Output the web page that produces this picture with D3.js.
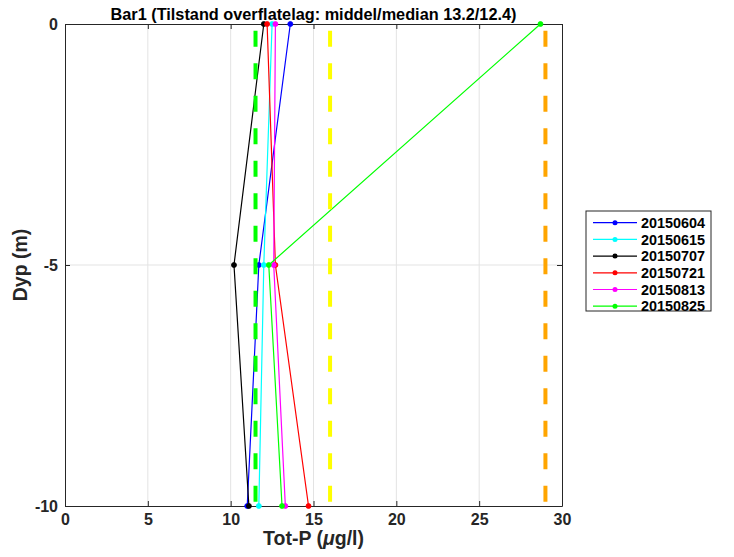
<!DOCTYPE html>
<html><head><meta charset="utf-8">
<script src="https://cdn.jsdelivr.net/npm/d3@7"></script>
<style>body{margin:0;background:#fff}svg{display:block;font-family:"Liberation Sans",Arial,Helvetica,sans-serif}</style>
</head><body><svg id="c" width="734" height="557"></svg>
<script>
const titleText = "Bar1 (Tilstand overflatelag: middel/median 13.2/12.4)";
const depths = [0, -5, -10];
const seriesNames = ["20150604","20150615","20150707","20150721","20150813","20150825"];
const seriesColors = ["#0000ff","#00ffff","#000000","#ff0000","#ff00ff","#00ff00"];
const s20150604 = [13.6, 11.7, 11.0];
const s20150615 = [12.5, 12.0, 11.7];
const s20150707 = [12.0, 10.2, 11.1];
const s20150721 = [12.2, 12.7, 14.7];
const s20150813 = [12.7, 12.6, 13.3];
const s20150825 = [28.7, 12.3, 13.1];
const seriesValues = [s20150604, s20150615, s20150707, s20150721, s20150813, s20150825];
const refValues = [11.5, 16, 29];
const refColors = ["#00ff00","#ffff00","#ffa500"];
const xTicks = [0,5,10,15,20,25,30];
const yTicks = [-10,-5,0];

const svg = d3.select("#c");
const L=65,R=562,T=24,B=506;
const x = d3.scaleLinear().domain([0,30]).range([L,R]);
const y = d3.scaleLinear().domain([-10,0]).range([B,T]);

// grid
const g = svg.append("g");
g.selectAll(".gx").data(xTicks.slice(1,-1)).join("line")
  .attr("x1",d=>x(d)).attr("x2",d=>x(d)).attr("y1",T).attr("y2",B)
  .attr("stroke","#e3e3e3").attr("stroke-width",1);
g.selectAll(".gy").data(yTicks.slice(1,-1)).join("line")
  .attr("y1",d=>y(d)).attr("y2",d=>y(d)).attr("x1",L).attr("x2",R)
  .attr("stroke","#e3e3e3").attr("stroke-width",1);

// axes
const fmt = d => String(d);
const xa = svg.append("g").attr("transform",`translate(0,${B})`)
  .call(d3.axisBottom(x).tickValues(xTicks).tickFormat(fmt).tickSizeInner(-5).tickSizeOuter(0).tickPadding(8));
const xaTop = svg.append("g").attr("transform",`translate(0,${T})`)
  .call(d3.axisTop(x).tickValues(xTicks).tickSizeInner(-5).tickSizeOuter(0).tickFormat(""));
const ya = svg.append("g").attr("transform",`translate(${L},0)`)
  .call(d3.axisLeft(y).tickValues(yTicks).tickFormat(fmt).tickSizeInner(-5).tickSizeOuter(0).tickPadding(7));
const yaR = svg.append("g").attr("transform",`translate(${R},0)`)
  .call(d3.axisRight(y).tickValues(yTicks).tickSizeInner(-5).tickSizeOuter(0).tickFormat(""));
[xa,xaTop,ya,yaR].forEach(a=>{
  a.select(".domain").attr("stroke","#262626").attr("stroke-width",1);
  a.selectAll(".tick line").attr("stroke","#262626");
  a.selectAll("text").attr("fill","#262626").style("font-size","16px").style("font-weight","bold")
   .style("font-family","'Liberation Sans',Arial,sans-serif");
});

// data lines
const line = d3.line().x(d=>x(d[0])).y(d=>y(d[1]));
seriesValues.forEach((vals,i)=>{
  const pts = vals.map((v,j)=>[v,depths[j]]);
  svg.append("path").datum(pts).attr("d",line).attr("fill","none")
    .attr("stroke",seriesColors[i]).attr("stroke-width",1.2);
  svg.append("g").selectAll("circle").data(pts).join("circle")
    .attr("cx",d=>x(d[0])).attr("cy",d=>y(d[1])).attr("r",2.5)
    .attr("fill",seriesColors[i]).attr("stroke",seriesColors[i]).attr("stroke-width",0.8);
});

// reference dashed lines
refValues.forEach((v,i)=>{
  svg.append("line").attr("x1",x(v)).attr("x2",x(v)).attr("y1",y(0)).attr("y2",y(-10))
    .attr("stroke",refColors[i]).attr("stroke-width",4)
    .attr("stroke-dasharray","16 16.5").attr("stroke-dashoffset",25.8);
});

// title
svg.append("text").attr("x",(L+R)/2).attr("y",20).attr("text-anchor","middle")
  .style("font-size","16.3px").style("font-weight","bold").attr("fill","#000").text(titleText);

// axis labels
const xl = svg.append("text").attr("x",(L+R)/2).attr("y",545).attr("text-anchor","middle")
  .style("font-size","19.5px").style("font-weight","bold").attr("fill","#262626");
xl.append("tspan").text("Tot-P (");
xl.append("tspan").style("font-style","italic").text("\u03bc");
xl.append("tspan").text("g/l)");
svg.append("text").attr("transform",`translate(27,${(T+B)/2}) rotate(-90)`).attr("text-anchor","middle")
  .style("font-size","19.5px").style("font-weight","bold").attr("fill","#262626").text("Dyp (m)");

// legend
const lg = svg.append("g");
lg.append("rect").attr("x",586).attr("y",211).attr("width",125).attr("height",100)
  .attr("fill","#fff").attr("stroke","#262626").attr("stroke-width",1);
seriesNames.forEach((n,i)=>{
  const yy = 222.7 + i*16.7;
  lg.append("line").attr("x1",593).attr("x2",637).attr("y1",yy).attr("y2",yy)
    .attr("stroke",seriesColors[i]).attr("stroke-width",1.2);
  lg.append("circle").attr("cx",615).attr("cy",yy).attr("r",2.5).attr("fill",seriesColors[i]);
  lg.append("text").attr("x",641).attr("y",yy+5.2).style("font-size","14.4px").style("font-weight","bold")
    .attr("fill","#000").text(n);
});
</script></body></html>
